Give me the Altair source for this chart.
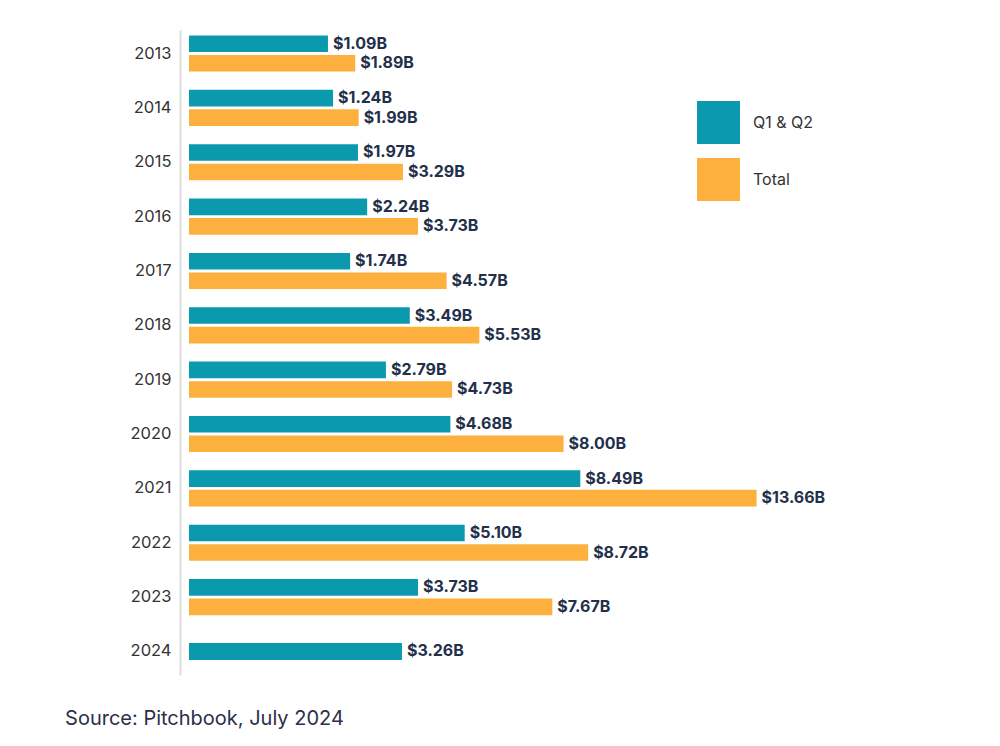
import altair as alt
import pandas as pd

years = ["2013", "2014", "2015", "2016", "2017", "2018", "2019", "2020", "2021", "2022", "2023", "2024"]
q1q2 = [1.09, 1.24, 1.97, 2.24, 1.74, 3.49, 2.79, 4.68, 8.49, 5.10, 3.73, 3.26]
total = [1.89, 1.99, 3.29, 3.73, 4.57, 5.53, 4.73, 8.00, 13.66, 8.72, 7.67, None]
series_names = ["Q1 & Q2", "Total"]
colors = ["#0b99ae", "#fdb03e"]

rows = []
for i, y in enumerate(years):
    rows.append({"year": y, "series": series_names[0], "value": q1q2[i]})
    if total[i] is not None:
        rows.append({"year": y, "series": series_names[1], "value": total[i]})
df = pd.DataFrame(rows)

pairs = df[df["year"] != "2024"]
single = df[df["year"] == "2024"]

xmin = -2.985
xscale = alt.Scale(domain=[xmin, 16.37], zero=False, nice=False)
yscale = alt.Scale(domain=years, paddingInner=0.335, paddingOuter=0.1)
yoff_scale = alt.Scale(domain=series_names, paddingInner=0.15)
cscale = alt.Scale(domain=series_names, range=colors)

y_enc = alt.Y("year:N", scale=yscale, sort=years,
              axis=alt.Axis(title=None, ticks=False, labelPadding=9, offset=9,
                            domainColor="#dcdcdc", domainWidth=2,
                            labelFont="Inter", labelFontSize=16.5, labelColor="#333333"))
color_enc = alt.Color("series:N", scale=cscale,
                      legend=alt.Legend(title=None, orient="none", legendX=508, legendY=71,
                                        symbolType="square", symbolSize=1849,
                                        symbolStrokeWidth=0, symbolOpacity=1,
                                        rowPadding=14, labelOffset=13,
                                        labelFont="Inter", labelFontSize=16,
                                        labelColor="#333333"))
x_enc = alt.X("value:Q", scale=xscale, axis=None)
x2_enc = alt.X2(datum=xmin)
label_calc = "'$' + format(datum.value, '.2f') + 'B'"

base_pairs = alt.Chart(pairs)
bars_pairs = base_pairs.mark_bar().encode(
    y=y_enc, yOffset=alt.YOffset("series:N", scale=yoff_scale),
    x=x_enc, x2=x2_enc, color=color_enc)
text_pairs = base_pairs.transform_calculate(label=label_calc).mark_text(
    align="left", baseline="middle", dx=5, font="Inter", fontSize=16,
    fontWeight="bold", color="#23304a").encode(
    y=y_enc, yOffset=alt.YOffset("series:N", scale=yoff_scale),
    x=x_enc, text="label:N")

base_single = alt.Chart(single)
bars_single = base_single.mark_bar(size=17).encode(
    y=y_enc, x=x_enc, x2=x2_enc, color=color_enc)
text_single = base_single.transform_calculate(label=label_calc).mark_text(
    align="left", baseline="middle", dx=5, font="Inter", fontSize=16,
    fontWeight="bold", color="#23304a").encode(
    y=y_enc, x=x_enc, text="label:N")

chart = alt.layer(bars_pairs, text_pairs, bars_single, text_single).properties(
    width=660, height=645,
    autosize=alt.AutoSizeParams(type="none"),
    padding={"left": 181, "top": 22, "right": 135, "bottom": 63},
    title=alt.TitleParams("Source: Pitchbook, July 2024", orient="bottom", anchor="start",
                          dx=-65, offset=34, font="Inter", fontSize=20,
                          fontWeight="normal", color="#2b3048"),
).configure_view(stroke=None)

chart.save("out.html", embed_options={"renderer": "svg", "actions": False})
